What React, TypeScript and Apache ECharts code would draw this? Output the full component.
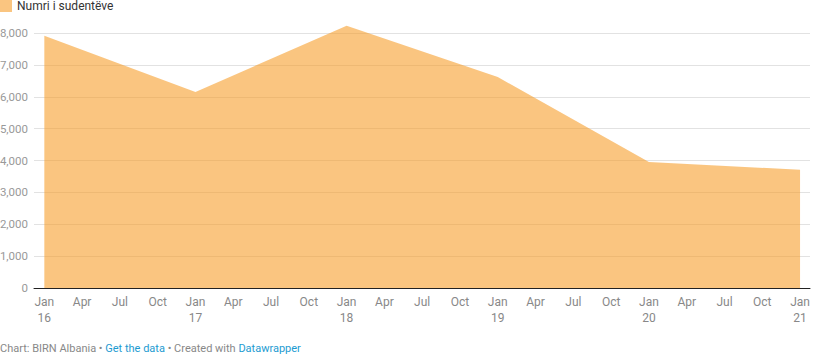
import React, { useEffect, useRef } from "react";
import * as echarts from "echarts";

const seriesName = "Numri i sudentëve";
// month offsets from Jan 2016
const dataMonths = [0, 12, 24, 36, 48, 60];
const students = [7910, 6150, 8230, 6620, 3950, 3710];
const xTickMonths = [0, 3, 6, 9, 12, 15, 18, 21, 24, 27, 30, 33, 36, 39, 42, 45, 48, 51, 54, 57, 60];
const xTickLabels = [
  "Jan\n16", "Apr", "Jul", "Oct",
  "Jan\n17", "Apr", "Jul", "Oct",
  "Jan\n18", "Apr", "Jul", "Oct",
  "Jan\n19", "Apr", "Jul", "Oct",
  "Jan\n20", "Apr", "Jul", "Oct",
  "Jan\n21",
];
const yTicks = [0, 1000, 2000, 3000, 4000, 5000, 6000, 7000, 8000];

export default function App() {
  const ref = useRef<HTMLDivElement>(null);
  useEffect(() => {
    document.body.style.margin = "0";
    const chart = echarts.init(ref.current!, undefined, { renderer: "svg" });
    const font = "Roboto, 'Noto Sans', sans-serif";
    chart.setOption({
      animation: false,
      textStyle: { fontFamily: font },
      legend: {
        left: 0,
        top: 0,
        padding: 0,
        icon: "rect",
        itemWidth: 12,
        itemHeight: 12,
        itemGap: 10,
        textStyle: { fontSize: 12, color: "#333", fontFamily: font, padding: [1, 0, 0, 0] },
        data: [seriesName],
      },
      grid: { left: 34, right: 23, top: 33, bottom: 67, containLabel: false, outerBoundsMode: "none" },
      xAxis: {
        type: "value",
        min: -0.82,
        max: 60.79,
        axisLine: { show: true, lineStyle: { color: "#222", width: 1 } },
        axisTick: { show: false },
        splitLine: { show: false },
        axisLabel: {
          customValues: xTickMonths,
          formatter: (v: number) => {
            const i = xTickMonths.indexOf(Math.round(v));
            return i >= 0 ? xTickLabels[i] : "";
          },
          color: "#888",
          fontSize: 12,
          lineHeight: 16,
          margin: 6,
          fontFamily: font,
        },
      },
      yAxis: {
        type: "value",
        min: 0,
        max: 8000,
        interval: 1000,
        axisLine: { show: false },
        axisTick: { show: false },
        splitLine: { lineStyle: { color: "#e2e2e2", width: 1 } },
        axisLabel: {
          customValues: yTicks,
          formatter: (v: number) => v.toLocaleString("en-US"),
          color: "#999",
          fontSize: 11.5,
          margin: 6,
          fontFamily: font,
        },
      },
      series: [
        {
          name: seriesName,
          type: "line",
          clip: false,
          symbol: "none",
          data: dataMonths.map((m, i) => [m, students[i]]),
          lineStyle: { width: 0 },
          itemStyle: { color: "#fac580" },
          areaStyle: { color: "#f79e2b", opacity: 0.6 },
          z: 3,
        },
      ],
      graphic: [
        {
          type: "text",
          left: 0,
          top: 343,
          style: {
            text: "{g|Chart: BIRN Albania • }{b|Get the data}{g| • Created with }{b|Datawrapper}",
            fontFamily: font,
            fontSize: 11,
            rich: {
              g: { fill: "#888", fontSize: 11, fontFamily: font },
              b: { fill: "#1d9bd1", fontSize: 11, fontFamily: font },
            },
          },
        },
      ],
    });
    return () => chart.dispose();
  }, []);
  return (
    <div
      ref={ref}
      style={{ position: "absolute", left: 0, top: 0, width: 833, height: 355 }}
    />
  );
}
